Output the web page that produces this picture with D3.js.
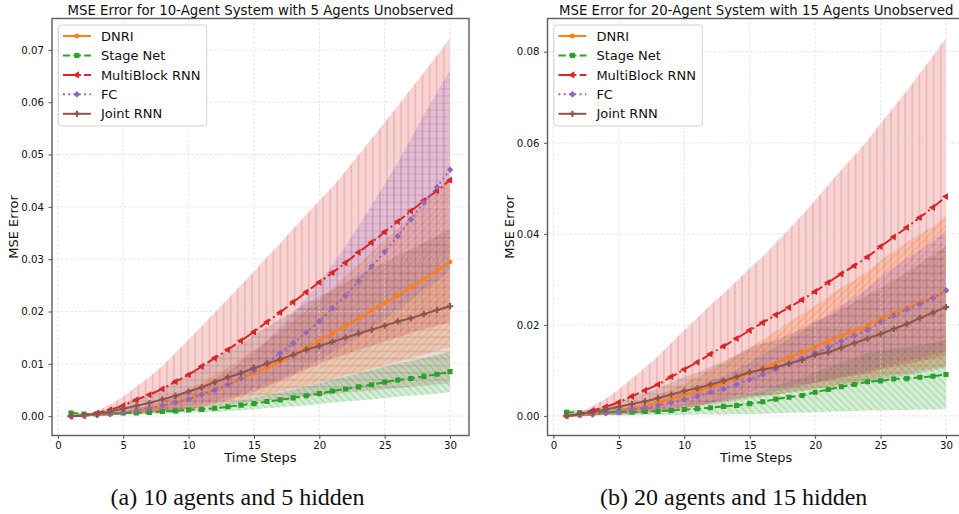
<!DOCTYPE html>
<html>
<head>
<meta charset="utf-8">
<script src="https://cdn.jsdelivr.net/npm/d3@7"></script>
<style>
  html, body { margin: 0; padding: 0; background: #fff; }
  svg { display: block; font-family: "DejaVu Sans", sans-serif; }
</style>
</head>
<body>
<svg id="chart" width="959" height="514"></svg>
<script>
// ---- data ----
const timeSteps = [1,2,3,4,5,6,7,8,9,10,11,12,13,14,15,16,17,18,19,20,21,22,23,24,25,26,27,28,29,30];
const seriesNames = ["DNRI", "Stage Net", "MultiBlock RNN", "FC", "Joint RNN"];
const xTicks = [0, 5, 10, 15, 20, 25, 30];
const xLimits = [-0.45, 31.45];

// (a) 10 agents, 5 hidden: mean MSE and half-width of the shaded band
const dnriA   = [0.0000,0.0001,0.0002,0.0003,0.0006,0.0009,0.0013,0.0019,0.0026,0.0033,0.0042,0.0050,0.0060,0.0071,0.0082,0.0093,0.0104,0.0118,0.0130,0.0144,0.0158,0.0173,0.0187,0.0202,0.0217,0.0231,0.0247,0.0262,0.0278,0.0295];
const dnriSpreadA = [0.0000,0.0001,0.0001,0.0002,0.0003,0.0005,0.0007,0.0010,0.0014,0.0018,0.0023,0.0028,0.0033,0.0039,0.0045,0.0051,0.0057,0.0065,0.0072,0.0079,0.0087,0.0095,0.0103,0.0111,0.0119,0.0127,0.0136,0.0144,0.0153,0.0163];
const stageA  = [0.0006,0.0004,0.0004,0.0005,0.0006,0.0006,0.0007,0.0009,0.0010,0.0012,0.0013,0.0015,0.0018,0.0021,0.0024,0.0028,0.0031,0.0035,0.0039,0.0043,0.0048,0.0052,0.0056,0.0060,0.0065,0.0069,0.0072,0.0076,0.0080,0.0085];
const stageSpreadA = [0.0002,0.0002,0.0002,0.0002,0.0003,0.0003,0.0003,0.0004,0.0005,0.0005,0.0006,0.0007,0.0008,0.0010,0.0011,0.0013,0.0014,0.0016,0.0018,0.0020,0.0022,0.0024,0.0026,0.0028,0.0030,0.0032,0.0033,0.0035,0.0037,0.0039];
const multiA  = [0.0000,0.0001,0.0006,0.0012,0.0020,0.0031,0.0041,0.0052,0.0066,0.0079,0.0095,0.0111,0.0127,0.0144,0.0161,0.0180,0.0198,0.0218,0.0237,0.0256,0.0274,0.0293,0.0313,0.0332,0.0352,0.0372,0.0392,0.0412,0.0431,0.0451];
const multiSpreadA = [0.0000,0.0002,0.0005,0.0010,0.0017,0.0025,0.0034,0.0044,0.0055,0.0067,0.0077,0.0087,0.0097,0.0106,0.0115,0.0124,0.0132,0.0140,0.0148,0.0156,0.0164,0.0175,0.0186,0.0198,0.0209,0.0221,0.0233,0.0245,0.0258,0.0272];
const fcA     = [0.0000,0.0001,0.0002,0.0004,0.0007,0.0011,0.0015,0.0020,0.0026,0.0032,0.0041,0.0050,0.0060,0.0072,0.0087,0.0102,0.0120,0.0139,0.0160,0.0181,0.0206,0.0230,0.0258,0.0286,0.0314,0.0344,0.0376,0.0408,0.0438,0.0471];
const fcSpreadA = [0.0000,0.0000,0.0001,0.0002,0.0003,0.0005,0.0006,0.0008,0.0011,0.0013,0.0017,0.0021,0.0025,0.0030,0.0036,0.0042,0.0049,0.0057,0.0066,0.0074,0.0084,0.0094,0.0106,0.0117,0.0129,0.0141,0.0154,0.0167,0.0180,0.0191];
const jointA  = [0.0000,0.0002,0.0004,0.0009,0.0014,0.0020,0.0025,0.0032,0.0039,0.0047,0.0055,0.0065,0.0074,0.0082,0.0092,0.0100,0.0109,0.0117,0.0127,0.0134,0.0142,0.0150,0.0158,0.0165,0.0173,0.0181,0.0187,0.0195,0.0203,0.0210];
const jointSpreadA = [0.0000,0.0001,0.0003,0.0006,0.0010,0.0014,0.0018,0.0022,0.0027,0.0033,0.0039,0.0046,0.0052,0.0057,0.0064,0.0070,0.0076,0.0082,0.0089,0.0094,0.0099,0.0105,0.0111,0.0116,0.0121,0.0127,0.0131,0.0137,0.0142,0.0148];
const yTicksA = [0.00, 0.01, 0.02, 0.03, 0.04, 0.05, 0.06, 0.07];
const yLimitsA = [-0.0037, 0.0760];

// (b) 20 agents, 15 hidden
const dnriB   = [0.0000,0.0001,0.0003,0.0006,0.0010,0.0015,0.0021,0.0029,0.0037,0.0045,0.0054,0.0064,0.0072,0.0083,0.0094,0.0105,0.0116,0.0129,0.0140,0.0151,0.0164,0.0176,0.0187,0.0198,0.0213,0.0226,0.0238,0.0250,0.0260,0.0275];
const dnriSpreadB = [0.0000,0.0001,0.0002,0.0004,0.0006,0.0009,0.0013,0.0017,0.0022,0.0027,0.0032,0.0038,0.0043,0.0050,0.0056,0.0063,0.0070,0.0077,0.0084,0.0091,0.0098,0.0106,0.0112,0.0119,0.0128,0.0136,0.0143,0.0150,0.0156,0.0166];
const stageB  = [0.0008,0.0007,0.0007,0.0008,0.0009,0.0008,0.0010,0.0010,0.0012,0.0014,0.0016,0.0018,0.0021,0.0023,0.0027,0.0031,0.0037,0.0041,0.0045,0.0052,0.0058,0.0064,0.0069,0.0075,0.0077,0.0081,0.0082,0.0085,0.0087,0.0091];
const stageSpreadB = [0.0006,0.0006,0.0006,0.0007,0.0008,0.0007,0.0008,0.0008,0.0010,0.0012,0.0013,0.0015,0.0018,0.0019,0.0023,0.0026,0.0031,0.0034,0.0038,0.0044,0.0049,0.0054,0.0058,0.0063,0.0065,0.0068,0.0069,0.0071,0.0073,0.0076];
const multiB  = [0.0000,0.0003,0.0012,0.0020,0.0030,0.0043,0.0056,0.0069,0.0086,0.0102,0.0118,0.0136,0.0153,0.0170,0.0188,0.0205,0.0222,0.0238,0.0255,0.0273,0.0293,0.0312,0.0330,0.0349,0.0372,0.0393,0.0414,0.0436,0.0458,0.0482];
const multiSpreadB = [0.0000,0.0003,0.0010,0.0018,0.0028,0.0039,0.0050,0.0062,0.0074,0.0086,0.0097,0.0107,0.0116,0.0126,0.0136,0.0145,0.0158,0.0172,0.0186,0.0200,0.0214,0.0228,0.0242,0.0256,0.0270,0.0285,0.0300,0.0316,0.0332,0.0348];
const fcB     = [0.0000,0.0002,0.0003,0.0006,0.0008,0.0014,0.0018,0.0023,0.0029,0.0036,0.0043,0.0052,0.0059,0.0069,0.0080,0.0091,0.0103,0.0114,0.0126,0.0138,0.0150,0.0164,0.0176,0.0189,0.0206,0.0220,0.0234,0.0246,0.0259,0.0276];
const fcSpreadB = [0.0000,0.0001,0.0001,0.0003,0.0004,0.0007,0.0009,0.0011,0.0014,0.0017,0.0021,0.0025,0.0028,0.0033,0.0038,0.0044,0.0049,0.0055,0.0060,0.0066,0.0072,0.0079,0.0084,0.0091,0.0099,0.0106,0.0112,0.0118,0.0124,0.0133];
const jointB  = [0.0000,0.0005,0.0008,0.0014,0.0020,0.0026,0.0032,0.0039,0.0047,0.0055,0.0061,0.0069,0.0077,0.0086,0.0096,0.0102,0.0107,0.0115,0.0123,0.0134,0.0140,0.0150,0.0160,0.0170,0.0180,0.0191,0.0202,0.0215,0.0227,0.0239];
const jointSpreadB = [0.0000,0.0003,0.0004,0.0008,0.0011,0.0015,0.0018,0.0022,0.0026,0.0031,0.0034,0.0039,0.0043,0.0048,0.0054,0.0057,0.0060,0.0064,0.0069,0.0075,0.0078,0.0084,0.0090,0.0095,0.0101,0.0107,0.0113,0.0120,0.0127,0.0134];
const yTicksB = [0.00, 0.02, 0.04, 0.06, 0.08];
const yLimitsB = [-0.0043, 0.0873];

// ---- styling ----
const styles = [
  { color: "#ff7f0e", dash: null,             marker: "circle",   hatch: "/"  },
  { color: "#2ca02c", dash: "7.4,3.2",        marker: "square",   hatch: "\\" },
  { color: "#d62728", dash: "12.8,3.2,2,3.2", marker: "triangle", hatch: "|"  },
  { color: "#9467bd", dash: "2,3.3",          marker: "diamond",  hatch: "+"  },
  { color: "#8c564b", dash: null,             marker: "cross",    hatch: "-"  }
];

const panels = [
  { title: "MSE Error for 10-Agent System with 5 Agents Unobserved",
    caption: "(a) 10 agents and 5 hidden", captionX: 237.5,
    left: 52, right: 469,
    yLimits: yLimitsA, yTicks: yTicksA,
    means: [dnriA, stageA, multiA, fcA, jointA],
    spreads: [dnriSpreadA, stageSpreadA, multiSpreadA, fcSpreadA, jointSpreadA] },
  { title: "MSE Error for 20-Agent System with 15 Agents Unobserved",
    caption: "(b) 20 agents and 15 hidden", captionX: 733.7,
    left: 547.5, right: 965,
    yLimits: yLimitsB, yTicks: yTicksB,
    means: [dnriB, stageB, multiB, fcB, jointB],
    spreads: [dnriSpreadB, stageSpreadB, multiSpreadB, fcSpreadB, jointSpreadB] }
];

const TOP = 18.5, BOTTOM = 435.5;
const svg = d3.select("#chart");
const defs = svg.append("defs");

// hatch patterns, one per series
const H = 7.1;
styles.forEach((s, i) => {
  const pat = defs.append("pattern")
    .attr("id", "hatch" + i)
    .attr("patternUnits", "userSpaceOnUse")
    .attr("width", H).attr("height", H);
  const segs = [];
  if (s.hatch === "/") segs.push([0, H, H, 0], [-1, 1, 1, -1], [H - 1, H + 1, H + 1, H - 1]);
  if (s.hatch === "\\") segs.push([0, 0, H, H], [-1, H - 1, 1, H + 1], [H - 1, -1, H + 1, 1]);
  if (s.hatch === "|" || s.hatch === "+") segs.push([H / 2, 0, H / 2, H]);
  if (s.hatch === "-" || s.hatch === "+") segs.push([0, H / 2, H, H / 2]);
  segs.forEach(d => pat.append("line")
    .attr("x1", d[0]).attr("y1", d[1]).attr("x2", d[2]).attr("y2", d[3])
    .attr("stroke", s.color).attr("stroke-opacity", 0.35).attr("stroke-width", 0.9));
});

function markerPath(kind, size) {
  const types = { circle: d3.symbolCircle, square: d3.symbolSquare, triangle: d3.symbolTriangle,
                  diamond: d3.symbolSquare, cross: d3.symbolCross };
  return d3.symbol().type(types[kind]).size(size)();
}
const markerSize = { circle: 18, square: 26, triangle: 22, diamond: 22, cross: 22 };
const markerRotate = { circle: 0, square: 0, triangle: -90, diamond: 45, cross: 0 };

panels.forEach((p, pi) => {
  const x = d3.scaleLinear().domain(xLimits).range([p.left, p.right]);
  const y = d3.scaleLinear().domain(p.yLimits).range([BOTTOM, TOP]);
  const g = svg.append("g");

  defs.append("clipPath").attr("id", "clip" + pi)
    .append("rect").attr("x", p.left).attr("y", TOP)
    .attr("width", p.right - p.left).attr("height", BOTTOM - TOP);

  const plot = g.append("g").attr("clip-path", `url(#clip${pi})`);

  // shaded bands
  styles.forEach((s, si) => {
    const m = p.means[si], sp = p.spreads[si];
    const area = d3.area()
      .x((d, i) => x(timeSteps[i]))
      .y0((d, i) => y(m[i] - sp[i]))
      .y1((d, i) => y(m[i] + sp[i]));
    plot.append("path").attr("d", area(m)).attr("fill", s.color).attr("fill-opacity", 0.2);
    plot.append("path").attr("d", area(m)).attr("fill", `url(#hatch${si})`);
  });

  // grid
  const grid = plot.append("g").attr("stroke", "#d4d4d4").attr("stroke-width", 0.8)
    .attr("stroke-dasharray", "2.5,2").attr("stroke-opacity", 0.8);
  xTicks.forEach(t => grid.append("line").attr("x1", x(t)).attr("x2", x(t)).attr("y1", TOP).attr("y2", BOTTOM));
  p.yTicks.forEach(t => grid.append("line").attr("x1", p.left).attr("x2", p.right).attr("y1", y(t)).attr("y2", y(t)));

  // lines and markers
  styles.forEach((s, si) => {
    const m = p.means[si];
    const line = d3.line().x((d, i) => x(timeSteps[i])).y(d => y(d));
    plot.append("path").attr("d", line(m)).attr("fill", "none")
      .attr("stroke", s.color).attr("stroke-width", 2)
      .attr("stroke-dasharray", s.dash);
    plot.append("g").selectAll("path").data(m).join("path")
      .attr("d", markerPath(s.marker, markerSize[s.marker]))
      .attr("transform", (d, i) => `translate(${x(timeSteps[i])},${y(d)}) rotate(${markerRotate[s.marker]})`)
      .attr("fill", s.color);
  });

  // axes
  const xAxis = g.append("g").attr("transform", `translate(0,${BOTTOM})`)
    .call(d3.axisBottom(x).tickValues(xTicks).tickFormat(d3.format("d")).tickSize(3.5).tickPadding(2.5));
  const yAxis = g.append("g").attr("transform", `translate(${p.left},0)`)
    .call(d3.axisLeft(y).tickValues(p.yTicks).tickFormat(d3.format(".2f")).tickSize(3.5).tickPadding(4.5));
  [xAxis, yAxis].forEach(a => {
    a.select(".domain").remove();
    a.selectAll(".tick line").attr("stroke", "#555").attr("stroke-width", 1);
    a.selectAll(".tick text").attr("fill", "#111").style("font-size", "10.2px")
      .style("font-family", "'DejaVu Sans', sans-serif");
  });

  // spines
  g.append("rect").attr("x", p.left).attr("y", TOP)
    .attr("width", p.right - p.left).attr("height", BOTTOM - TOP)
    .attr("fill", "none").attr("stroke", "#5c5c5c").attr("stroke-width", 1.4);

  // titles and labels
  g.append("text").attr("x", (p.left + p.right) / 2).attr("y", 15)
    .attr("text-anchor", "middle").style("font-size", "13.3px").attr("fill", "#111").text(p.title);
  g.append("text").attr("x", (p.left + p.right) / 2).attr("y", 461.5)
    .attr("text-anchor", "middle").style("font-size", "13px").attr("fill", "#111").text("Time Steps");
  g.append("text")
    .attr("transform", `translate(${p.left - 34},${(TOP + BOTTOM) / 2}) rotate(-90)`)
    .attr("text-anchor", "middle").style("font-size", "13px").attr("fill", "#111").text("MSE Error");
  g.append("text").attr("x", p.captionX).attr("y", 505)
    .attr("text-anchor", "middle")
    .style("font-family", "'Liberation Serif', 'Times New Roman', serif")
    .style("font-size", "24px").attr("fill", "#111").text(p.caption);

  // legend
  const lx = p.left + 6.4, ly = 25;
  const legend = g.append("g");
  legend.append("rect").attr("x", lx).attr("y", ly).attr("width", 148.4).attr("height", 101)
    .attr("rx", 3).attr("fill", "#fff").attr("fill-opacity", 0.85)
    .attr("stroke", "#d3d3d3").attr("stroke-width", 1);
  seriesNames.forEach((name, si) => {
    const s = styles[si];
    const cy = 36 + si * 19.45;
    legend.append("line").attr("x1", lx + 4.5).attr("x2", lx + 32.5).attr("y1", cy).attr("y2", cy)
      .attr("stroke", s.color).attr("stroke-width", 2).attr("stroke-dasharray", s.dash);
    legend.append("path").attr("d", markerPath(s.marker, markerSize[s.marker]))
      .attr("transform", `translate(${lx + 18.5},${cy}) rotate(${markerRotate[s.marker]})`)
      .attr("fill", s.color);
    legend.append("text").attr("x", lx + 42.5).attr("y", cy).attr("dy", "0.36em")
      .style("font-size", "13px").attr("fill", "#111").text(name);
  });
});
</script>
</body>
</html>
